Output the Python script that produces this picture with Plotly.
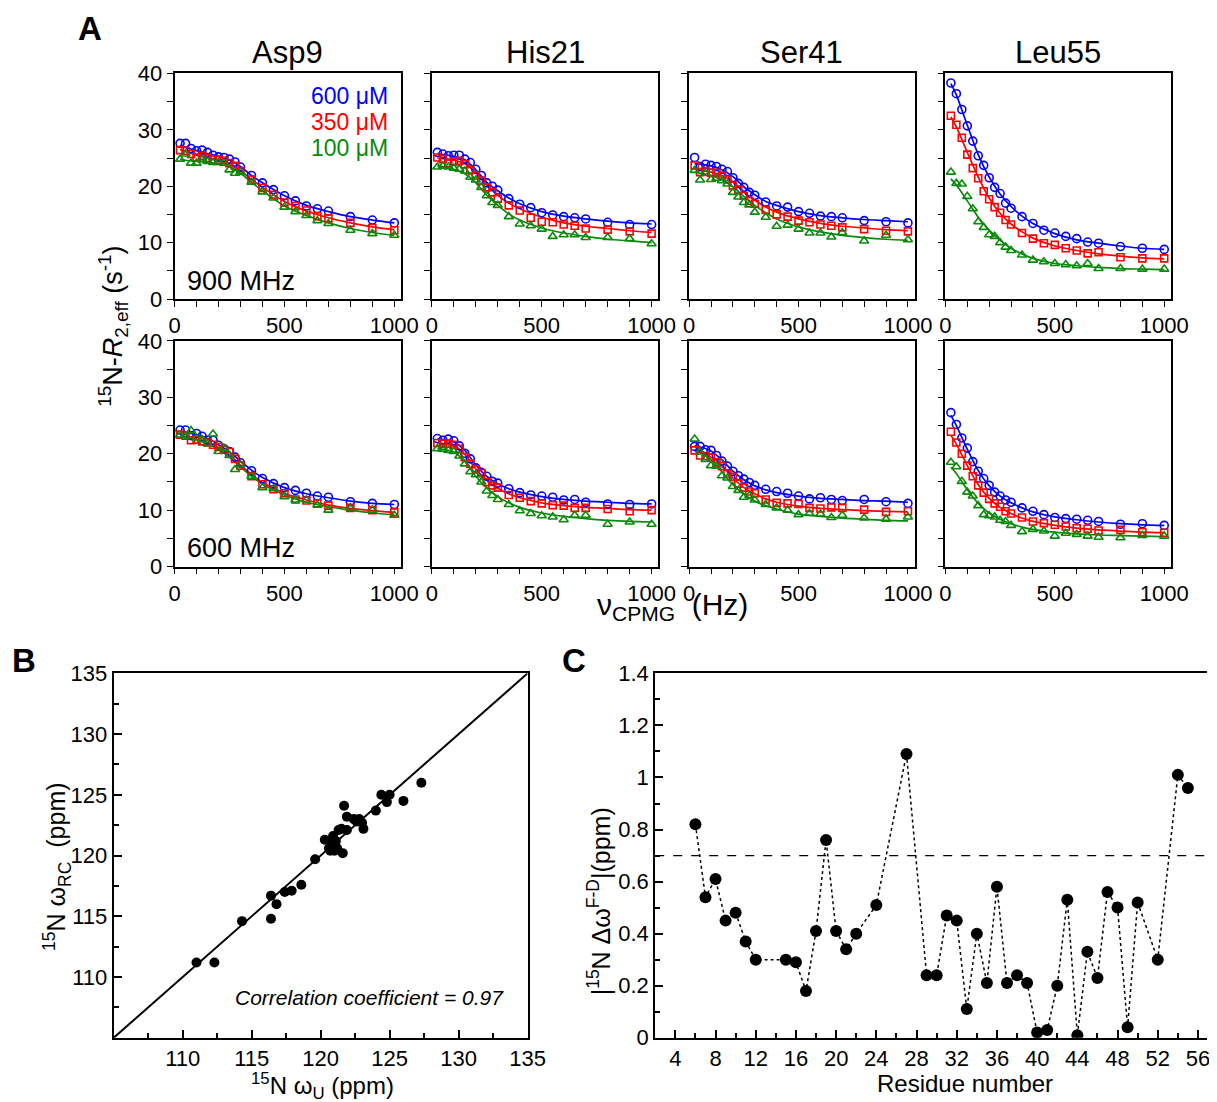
import plotly.graph_objects as go

W, H = 1217, 1102

# ---- Panel A : CPMG relaxation dispersion ----
nu = [25, 50, 75, 100, 125, 150, 175, 200, 225, 250, 275, 300,
      350, 400, 450, 500, 550, 600, 650, 700, 800, 900, 1000]
nu_fit = [25, 50, 100, 150, 200, 250, 300, 350, 400, 500, 600, 700, 800, 900, 1000]

residues = ["Asp9", "His21", "Ser41", "Leu55"]
conc_labels = ["600 μM", "350 μM", "100 μM"]

# 900 MHz
asp9_900_c600 = [27.6, 27.6, 26.7, 26.3, 26.4, 26.0, 25.5, 25.2, 25.1, 24.8, 24.3, 23.4, 21.9, 20.6, 19.4, 18.3, 17.4, 16.5, 16.0, 15.6, 14.6, 14.0, 13.5]
asp9_900_c350 = [26.4, 26.3, 25.7, 25.1, 25.4, 25.0, 24.7, 24.7, 24.5, 24.1, 23.6, 22.7, 21.2, 19.7, 18.5, 17.1, 16.5, 15.7, 14.7, 14.3, 13.5, 12.6, 12.2]
asp9_900_c100 = [24.8, 25.7, 24.1, 24.1, 24.8, 24.4, 24.2, 24.2, 24.1, 22.9, 22.3, 22.5, 20.7, 19.0, 17.9, 16.3, 15.5, 14.8, 13.9, 13.4, 12.2, 11.6, 11.3]
asp9_900_f600 = [27.3, 26.9, 26.3, 25.8, 25.3, 24.6, 23.5, 21.9, 20.6, 18.3, 16.6, 15.5, 14.6, 14.0, 13.5]
asp9_900_f350 = [26.5, 26.1, 25.5, 25.0, 24.5, 23.8, 22.7, 21.2, 19.8, 17.3, 15.6, 14.4, 13.5, 12.8, 12.3]
asp9_900_f100 = [24.8, 24.6, 24.4, 24.2, 24.0, 23.4, 22.3, 20.7, 19.2, 16.5, 14.8, 13.5, 12.5, 11.8, 11.3]

his21_900_c600 = [26.0, 25.7, 25.4, 25.5, 25.5, 24.8, 24.2, 23.0, 21.9, 20.6, 20.0, 19.3, 17.8, 16.8, 16.2, 15.3, 14.9, 14.6, 14.4, 14.2, 13.6, 13.2, 13.2]
his21_900_c350 = [25.1, 24.8, 24.1, 24.4, 24.5, 23.9, 22.9, 21.9, 21.0, 19.8, 18.9, 17.8, 16.6, 15.7, 14.4, 13.7, 13.6, 13.2, 13.0, 12.5, 12.3, 12.0, 11.6]
his21_900_c100 = [23.4, 23.6, 23.4, 23.2, 23.0, 22.7, 21.6, 21.1, 19.8, 18.3, 17.1, 16.6, 14.6, 13.3, 13.0, 12.4, 11.1, 11.4, 11.4, 10.9, 10.9, 10.7, 9.8]
his21_900_f600 = [25.8, 25.6, 25.3, 24.7, 22.9, 20.7, 19.2, 17.9, 16.9, 15.5, 14.7, 14.2, 13.8, 13.5, 13.3]
his21_900_f350 = [25.0, 24.9, 24.6, 24.0, 22.4, 20.2, 18.4, 17.0, 16.0, 14.5, 13.5, 12.9, 12.5, 12.1, 11.8]
his21_900_f100 = [23.6, 23.5, 23.0, 22.2, 20.6, 18.4, 16.6, 15.1, 14.0, 12.6, 11.7, 11.1, 10.6, 10.3, 10.0]

ser41_900_c600 = [25.1, 23.5, 23.9, 23.7, 23.5, 23.0, 22.6, 21.5, 20.5, 19.8, 18.9, 18.4, 17.2, 16.5, 16.3, 15.5, 15.2, 14.7, 14.6, 14.4, 13.9, 13.7, 13.5]
ser41_900_c350 = [23.7, 22.5, 22.7, 22.4, 22.4, 21.9, 21.2, 20.1, 19.4, 18.3, 17.4, 16.9, 15.8, 15.0, 14.6, 13.9, 13.6, 13.2, 13.0, 12.7, 12.4, 12.1, 12.0]
ser41_900_c100 = [22.8, 21.1, 22.3, 21.2, 21.4, 21.0, 20.4, 18.9, 18.1, 17.1, 16.7, 15.4, 14.5, 12.9, 13.1, 12.4, 11.7, 11.7, 11.0, 11.8, 10.3, 11.3, 10.5]
ser41_900_f600 = [24.0, 23.9, 23.6, 22.9, 21.7, 19.9, 18.5, 17.3, 16.6, 15.5, 14.8, 14.4, 14.1, 13.9, 13.7]
ser41_900_f350 = [23.0, 22.8, 22.5, 21.9, 20.8, 19.0, 17.5, 16.3, 15.4, 14.2, 13.4, 12.9, 12.6, 12.3, 12.1]
ser41_900_f100 = [22.5, 22.3, 21.9, 21.1, 19.9, 18.2, 16.6, 15.3, 14.2, 12.8, 11.9, 11.3, 10.9, 10.6, 10.4]

leu55_900_c600 = [38.3, 36.4, 33.6, 30.7, 28.0, 25.4, 23.7, 21.5, 19.8, 18.7, 17.0, 16.1, 14.6, 13.4, 12.2, 11.7, 11.1, 10.7, 10.1, 9.9, 9.3, 9.0, 8.8]
leu55_900_c350 = [32.5, 30.9, 28.6, 25.6, 23.2, 21.4, 19.1, 17.7, 16.3, 15.3, 14.0, 13.2, 11.7, 10.7, 9.9, 9.6, 9.0, 8.6, 8.1, 8.3, 7.4, 7.2, 7.2]
leu55_900_c100 = [22.5, 20.5, 20.4, 18.2, 16.0, 13.7, 12.7, 11.4, 11.1, 10.0, 9.2, 8.6, 7.8, 6.9, 6.6, 6.3, 6.1, 5.9, 6.3, 5.4, 5.4, 5.3, 5.3]
leu55_900_f600 = [38.2, 36.2, 30.8, 25.6, 21.6, 18.6, 16.4, 14.7, 13.4, 11.6, 10.5, 9.9, 9.4, 9.0, 8.8]
leu55_900_f350 = [32.3, 30.5, 26.0, 21.6, 17.9, 15.2, 13.3, 11.9, 10.8, 9.4, 8.6, 8.0, 7.6, 7.3, 7.1]
leu55_900_f100 = [21.3, 20.2, 17.4, 14.5, 12.2, 10.4, 9.0, 8.0, 7.2, 6.3, 5.9, 5.6, 5.4, 5.3, 5.2]

# 600 MHz
asp9_600_c600 = [24.2, 24.2, 23.2, 23.6, 23.1, 22.4, 22.4, 21.5, 20.9, 20.4, 19.4, 18.4, 17.0, 15.6, 14.7, 14.0, 13.5, 13.0, 12.5, 12.3, 11.5, 11.2, 11.0]
asp9_600_c350 = [23.4, 23.2, 22.4, 22.5, 22.2, 22.0, 21.6, 21.2, 20.7, 20.3, 19.1, 17.9, 16.0, 14.6, 13.7, 13.0, 11.9, 11.7, 11.2, 10.8, 10.4, 10.0, 9.6]
asp9_600_c100 = [23.3, 23.1, 24.1, 22.8, 22.5, 21.8, 23.5, 20.4, 21.0, 19.7, 17.2, 18.0, 16.0, 14.0, 13.8, 12.4, 11.8, 11.8, 10.9, 10.0, 10.4, 10.0, 9.1]
asp9_600_f600 = [24.0, 23.8, 23.4, 22.7, 21.6, 20.3, 18.7, 17.1, 15.8, 14.0, 12.9, 12.2, 11.6, 11.2, 11.0]
asp9_600_f350 = [23.3, 23.1, 22.6, 22.0, 21.1, 19.8, 18.0, 16.3, 14.9, 13.0, 11.8, 10.9, 10.3, 9.9, 9.6]
asp9_600_f100 = [23.2, 23.0, 22.5, 21.8, 20.8, 19.4, 17.7, 16.0, 14.6, 12.7, 11.4, 10.6, 10.0, 9.5, 9.2]

his21_600_c600 = [22.7, 22.4, 22.6, 22.3, 21.4, 20.1, 19.1, 17.5, 16.7, 16.0, 15.1, 14.8, 13.8, 13.1, 12.7, 12.5, 12.3, 11.8, 11.9, 11.4, 11.1, 11.0, 11.1]
his21_600_c350 = [21.9, 21.8, 21.8, 21.6, 20.9, 19.4, 18.2, 17.2, 16.6, 15.0, 14.4, 14.0, 12.7, 12.2, 11.6, 11.2, 10.9, 10.8, 10.4, 10.4, 10.2, 9.8, 10.0]
his21_600_c100 = [20.9, 20.8, 20.6, 20.4, 19.6, 18.2, 16.8, 16.3, 15.0, 13.4, 12.6, 11.9, 11.0, 9.9, 9.4, 9.0, 8.8, 8.3, 9.1, 9.1, 7.5, 7.9, 7.5]
his21_600_f600 = [22.6, 22.5, 22.1, 20.6, 18.0, 16.0, 14.7, 13.8, 13.2, 12.4, 11.9, 11.6, 11.4, 11.2, 11.1]
his21_600_f350 = [21.9, 21.8, 21.4, 19.9, 17.3, 15.3, 13.9, 12.9, 12.2, 11.3, 10.8, 10.5, 10.3, 10.1, 10.0]
his21_600_f100 = [20.9, 20.8, 20.3, 18.6, 16.0, 13.9, 12.4, 11.3, 10.5, 9.5, 8.9, 8.5, 8.2, 8.0, 7.9]

ser41_600_c600 = [21.3, 21.3, 20.7, 20.6, 19.7, 18.7, 17.8, 16.9, 16.1, 15.5, 14.9, 14.4, 13.7, 13.3, 13.0, 12.5, 12.0, 12.2, 11.9, 11.7, 11.9, 11.5, 11.2]
ser41_600_c350 = [20.6, 19.7, 19.6, 19.3, 18.5, 17.8, 16.5, 15.9, 14.7, 14.0, 13.3, 13.0, 11.9, 11.3, 11.2, 11.1, 10.4, 10.3, 10.5, 10.4, 10.1, 9.7, 9.8]
ser41_600_c100 = [22.6, 20.3, 19.0, 17.9, 17.8, 16.1, 15.7, 14.2, 13.5, 12.3, 12.6, 11.8, 11.0, 10.4, 10.0, 9.2, 9.4, 9.3, 8.7, 9.1, 8.6, 8.4, 8.8]
ser41_600_f600 = [21.4, 21.2, 20.5, 18.9, 16.9, 15.4, 14.3, 13.6, 13.1, 12.5, 12.1, 11.9, 11.7, 11.6, 11.4]
ser41_600_f350 = [20.5, 20.2, 19.4, 17.8, 15.7, 14.0, 12.9, 12.0, 11.4, 10.7, 10.3, 10.1, 9.9, 9.8, 9.7]
ser41_600_f100 = [20.8, 20.3, 19.0, 16.8, 14.5, 12.8, 11.6, 10.8, 10.2, 9.3, 8.9, 8.6, 8.4, 8.2, 8.1]

leu55_600_c600 = [27.3, 25.2, 22.8, 21.0, 18.6, 16.9, 15.6, 14.4, 13.2, 12.5, 11.8, 11.4, 10.4, 9.8, 9.2, 8.7, 8.5, 8.4, 8.2, 8.0, 7.5, 7.6, 7.3]
leu55_600_c350 = [23.9, 22.0, 20.0, 17.9, 16.0, 14.4, 13.1, 12.0, 11.2, 10.6, 9.8, 9.4, 8.7, 8.0, 7.7, 7.4, 7.1, 6.8, 6.7, 6.4, 6.5, 6.1, 6.0]
leu55_600_c100 = [18.5, 17.7, 15.1, 13.2, 12.5, 10.8, 9.2, 9.0, 8.8, 8.2, 8.0, 7.3, 6.2, 6.6, 6.3, 5.4, 5.9, 5.7, 5.4, 5.2, 5.1, 5.5, 5.4]
leu55_600_f600 = [26.8, 25.0, 20.8, 17.0, 14.3, 12.5, 11.3, 10.4, 9.7, 8.8, 8.3, 7.9, 7.6, 7.4, 7.3]
leu55_600_f350 = [23.3, 21.7, 17.9, 14.5, 12.1, 10.5, 9.4, 8.6, 8.0, 7.3, 6.8, 6.5, 6.3, 6.1, 6.0]
leu55_600_f100 = [17.6, 16.5, 13.6, 11.2, 9.5, 8.4, 7.6, 7.0, 6.6, 6.1, 5.8, 5.6, 5.5, 5.4, 5.3]

# ---- Panel B : chemical shift correlation ----
omega_u = [111.0, 112.3, 114.3, 116.4, 116.4, 116.8, 117.4, 117.9, 118.6, 119.6,
           120.3, 120.6, 120.7, 120.9, 121.1, 121.0, 121.3, 121.6, 121.5, 121.7,
           121.9, 121.9, 122.4, 122.6, 123.0, 123.1, 124.0, 124.4, 124.8, 125.0,
           126.0, 127.3, 120.8, 121.2, 122.8]
omega_rc = [111.2, 111.2, 114.6, 116.7, 114.8, 116.0, 117.0, 117.1, 117.6, 119.7,
            121.3, 120.6, 120.4, 121.6, 121.2, 120.4, 122.1, 120.2, 122.2, 124.1,
            122.1, 123.2, 123.0, 122.8, 122.7, 122.2, 123.7, 125.0, 124.4, 125.0,
            124.5, 126.0, 121.0, 120.6, 123.0]

# ---- Panel C : chemical shift differences ----
residue_no = [6, 7, 8, 9, 10, 11, 12, 15, 16, 17, 18, 19, 20, 21, 22, 24, 27,
              29, 30, 31, 32, 33, 34, 35, 36, 37, 38, 39, 40, 41, 42, 43, 44,
              45, 46, 47, 48, 49, 50, 52, 54, 55]
delta_fd = [0.82, 0.54, 0.61, 0.45, 0.48, 0.37, 0.30, 0.30, 0.29, 0.18, 0.41,
            0.76, 0.41, 0.34, 0.40, 0.51, 1.09, 0.24, 0.24, 0.47, 0.45, 0.11,
            0.40, 0.21, 0.58, 0.21, 0.24, 0.21, 0.02, 0.03, 0.20, 0.53, 0.01,
            0.33, 0.23, 0.56, 0.50, 0.04, 0.52, 0.30, 1.01, 0.96]
threshold = 0.7

panels = [
    [(asp9_900_c600, asp9_900_c350, asp9_900_c100), (asp9_900_f600, asp9_900_f350, asp9_900_f100)],
    [(his21_900_c600, his21_900_c350, his21_900_c100), (his21_900_f600, his21_900_f350, his21_900_f100)],
    [(ser41_900_c600, ser41_900_c350, ser41_900_c100), (ser41_900_f600, ser41_900_f350, ser41_900_f100)],
    [(leu55_900_c600, leu55_900_c350, leu55_900_c100), (leu55_900_f600, leu55_900_f350, leu55_900_f100)],
    [(asp9_600_c600, asp9_600_c350, asp9_600_c100), (asp9_600_f600, asp9_600_f350, asp9_600_f100)],
    [(his21_600_c600, his21_600_c350, his21_600_c100), (his21_600_f600, his21_600_f350, his21_600_f100)],
    [(ser41_600_c600, ser41_600_c350, ser41_600_c100), (ser41_600_f600, ser41_600_f350, ser41_600_f100)],
    [(leu55_600_c600, leu55_600_c350, leu55_600_c100), (leu55_600_f600, leu55_600_f350, leu55_600_f100)],
]

colors = ["#0000ff", "#ff0000", "#0a8a0a"]
symbols = ["circle-open", "square-open", "triangle-up-open"]
msizes = [8, 7, 8]
FONT = "Liberation Sans, Arial, Helvetica, sans-serif"

# the page gets shown a bit shrunk and shifted; positions below are in target pixels
SX, OX = 0.983, 13.0
SY, OY = 0.979, 19.5


def fx(x):
    return min(max((x - OX) / (SX * W), 0), 1)


def fy(y):
    return min(max(1 - (y - OY) / (SY * H), 0), 1)


def xdom(a, b):
    return [fx(a), fx(b)]


def ydom(top, bot):
    return [fy(bot), fy(top)]


col_px = [(174, 401), (432, 659), (690, 916), (947, 1173)]
row_px = [(73, 299), (341, 567)]

fig = go.Figure()
layout = {}

for i, (pts, fits) in enumerate(panels):
    n = i + 1
    row, col = divmod(i, 4)
    xa = "x" if n == 1 else "x%d" % n
    ya = "y" if n == 1 else "y%d" % n
    for k in range(3):
        fig.add_trace(go.Scatter(x=nu_fit, y=fits[k], mode="lines", line=dict(color=colors[k], width=1.7, shape="spline", smoothing=0.8),
                                 xaxis=xa, yaxis=ya, showlegend=False, hoverinfo="skip"))
    for k in range(3):
        fig.add_trace(go.Scatter(x=nu, y=pts[k], mode="markers",
                                 marker=dict(symbol=symbols[k], size=msizes[k], color=colors[k], line=dict(width=1.6, color=colors[k])),
                                 xaxis=xa, yaxis=ya, showlegend=False, name=conc_labels[k]))
    layout["xaxis" if n == 1 else "xaxis%d" % n] = dict(
        domain=xdom(*col_px[col]), anchor=ya, range=[0, 1030], showgrid=False, zeroline=False,
        showline=True, linecolor="black", linewidth=1.7, mirror=True,
        ticks="outside", ticklen=6, tickwidth=1.4, tickcolor="black", tick0=0, dtick=500,
        minor=dict(dtick=100, ticks="outside", ticklen=6, tickwidth=1.4, tickcolor="black"),
        tickfont=dict(size=22, color="black", family=FONT))
    layout["yaxis" if n == 1 else "yaxis%d" % n] = dict(
        domain=ydom(*row_px[row]), anchor=xa, range=[0, 40], showgrid=False, zeroline=False,
        showline=True, linecolor="black", linewidth=1.7, mirror=True,
        ticks="outside", ticklen=6, tickwidth=1.4, tickcolor="black", tick0=0, dtick=10,
        minor=dict(dtick=5, ticks="outside", ticklen=6, tickwidth=1.4, tickcolor="black"),
        showticklabels=(col == 0), tickfont=dict(size=22, color="black", family=FONT))

# panel B
fig.add_trace(go.Scatter(x=omega_u, y=omega_rc, mode="markers", marker=dict(size=10, color="black"),
                         xaxis="x9", yaxis="y9", showlegend=False))
b_range = [105, 135]
b_ticks = [110, 115, 120, 125, 130, 135]
for ax, dom in (("xaxis9", xdom(113, 528)), ("yaxis9", ydom(674, 1039))):
    layout[ax] = dict(domain=dom, anchor="y9" if ax[0] == "x" else "x9", range=b_range, showgrid=False, zeroline=False,
                      showline=True, linecolor="black", linewidth=2, mirror=True,
                      ticks="inside", ticklen=8, tickwidth=1.6, tickcolor="black", tickmode="array",
                      tickvals=b_ticks,
                      minor=dict(tick0=105, dtick=2.5, ticks="inside", ticklen=5, tickwidth=1.6, tickcolor="black"),
                      tickfont=dict(size=22, color="black", family=FONT))

# panel C
fig.add_trace(go.Scatter(x=residue_no, y=delta_fd, mode="lines+markers",
                         line=dict(color="black", width=1.5, dash="dot"),
                         marker=dict(size=12, color="black"),
                         xaxis="x10", yaxis="y10", showlegend=False))
layout["xaxis10"] = dict(domain=xdom(656, 1217), anchor="y10", range=[2, 56.9], showgrid=False, zeroline=False,
                         showline=True, linecolor="black", linewidth=2, mirror=True,
                         ticks="inside", ticklen=8, tickwidth=1.6, tickcolor="black", tick0=0, dtick=4,
                         minor=dict(dtick=2, ticks="inside", ticklen=5, tickwidth=1.6, tickcolor="black"),
                         tickfont=dict(size=22, color="black", family=FONT))
layout["yaxis10"] = dict(domain=ydom(674, 1039), anchor="x10", range=[0, 1.4], showgrid=False, zeroline=False,
                         showline=True, linecolor="black", linewidth=2, mirror=False,
                         ticks="inside", ticklen=8, tickwidth=1.6, tickcolor="black", tick0=0, dtick=0.2,
                         minor=dict(dtick=0.1, ticks="inside", ticklen=5, tickwidth=1.6, tickcolor="black"),
                         tickfont=dict(size=22, color="black", family=FONT))

shapes = [
    dict(type="line", xref="x9", yref="y9", x0=b_range[0], y0=b_range[0], x1=b_range[1], y1=b_range[1],
         line=dict(color="black", width=2)),
    dict(type="line", xref="x10 domain", yref="y10", x0=0, x1=1, y0=threshold, y1=threshold,
         line=dict(color="black", width=1.3, dash="dash")),
]


def ann(text, x, y, size=20, color="black", xanchor="center", yanchor="middle", textangle=0):
    return dict(text=text, x=fx(x), y=fy(y), xref="paper", yref="paper", showarrow=False,
                font=dict(size=size, color=color, family=FONT), xanchor=xanchor, yanchor=yanchor,
                textangle=textangle)


annotations = [
    ann("<b>A</b>", 89, 28, size=33),
    ann("<b>B</b>", 23, 661, size=33),
    ann("<b>C</b>", 575, 661, size=33),
    ann("900 MHz", 184, 281, size=27, xanchor="left"),
    ann("600 MHz", 184, 548, size=27, xanchor="left"),
    ann("<sup>15</sup>N-<i>R</i><sub>2,eff</sub> (s<sup>-1</sup>)", 112, 326, size=27, textangle=-90),
    ann("ν<sub>CPMG</sub>  (Hz)", 673, 607, size=30),
    ann("<sup>15</sup>N ω<sub>U</sub> (ppm)", 322, 1087, size=24),
    ann("<sup>15</sup>N ω<sub>RC</sub>  (ppm)", 56, 868, size=25, textangle=-90),
    ann("<i>Correlation coefficient = 0.97</i>", 369, 999, size=21),
    ann("Residue number", 967, 1085, size=24),
    ann("|<sup>15</sup>N Δω<sup>F-D</sup>|(ppm)", 600, 902, size=25, textangle=-90),
]
for j, name in enumerate(residues):
    a, b = col_px[j]
    annotations.append(ann(name, (a + b) / 2, 52, size=31))
for k, lab in enumerate(conc_labels):
    annotations.append(ann(lab, 390, 96 + 26 * k, size=23, color=colors[k], xanchor="right"))

fig.update_layout(width=W, height=H, margin=dict(l=0, r=0, t=0, b=0), plot_bgcolor="white",
                  paper_bgcolor="white", font=dict(family=FONT, color="black"),
                  shapes=shapes, annotations=annotations, **layout)

fig.write_html("out.html")
